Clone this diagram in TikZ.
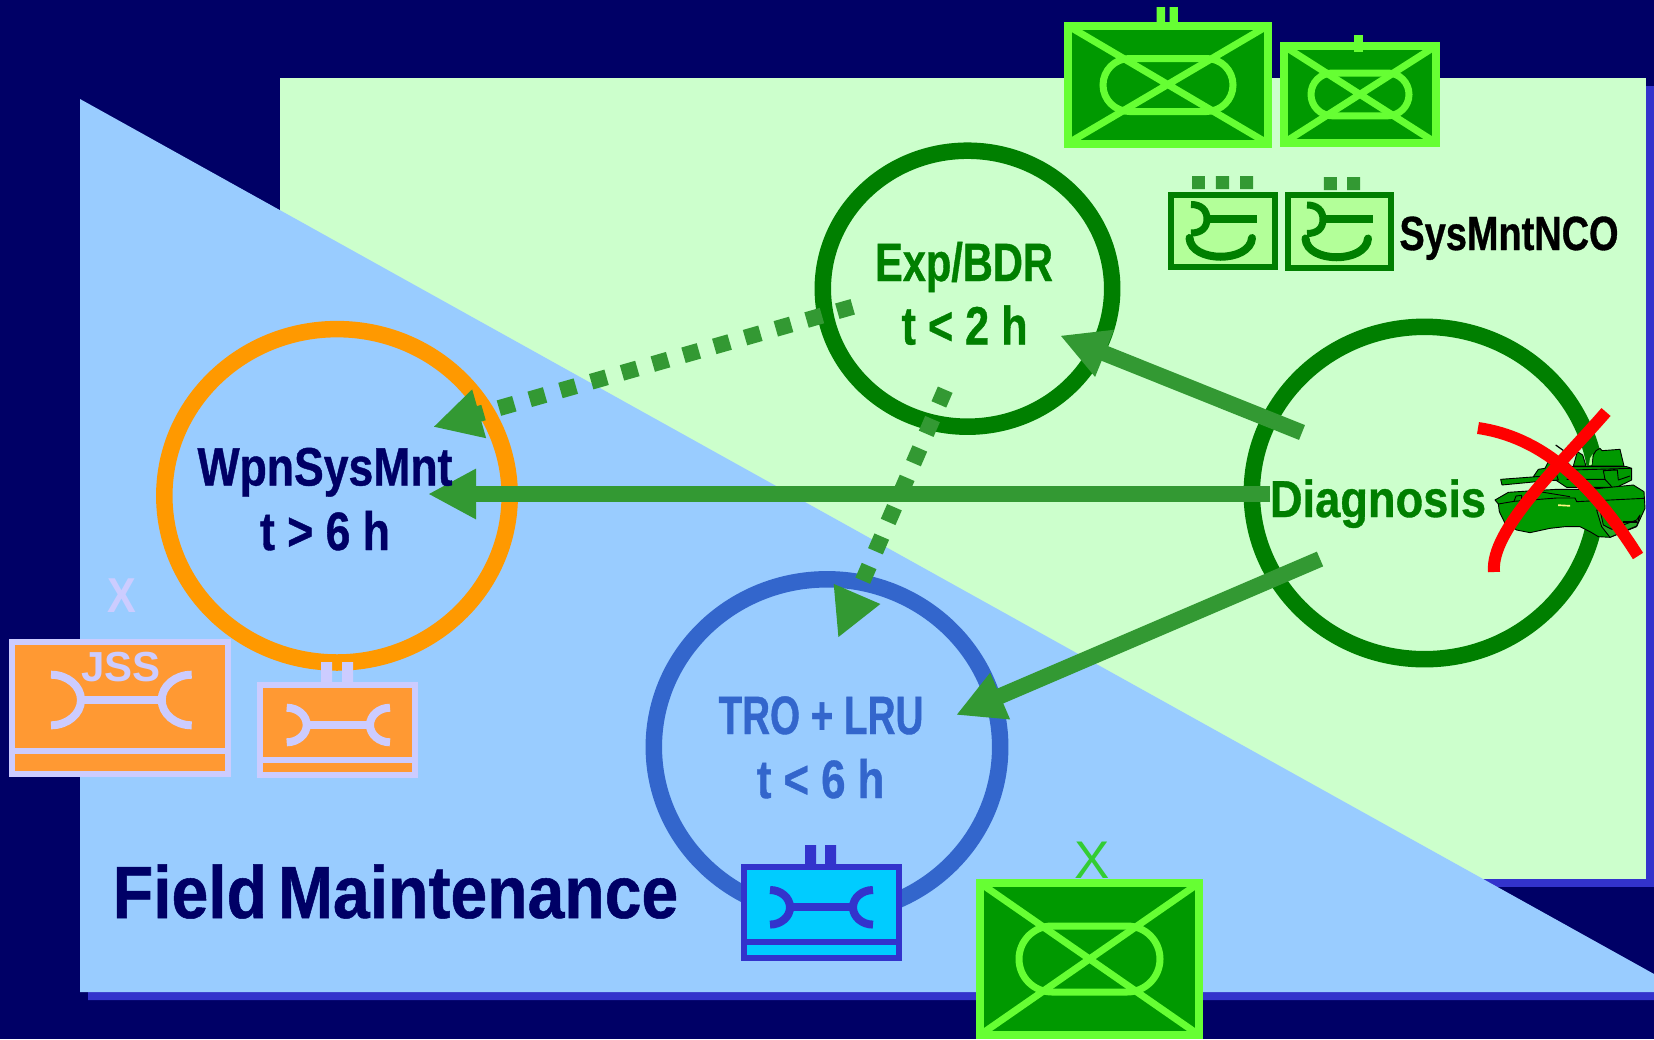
\documentclass[tikz,border=0pt]{standalone}
\usepackage{fontspec}
\setmainfont{Liberation Sans}
\usetikzlibrary{arrows.meta}
\definecolor{navy}{HTML}{000066}
\definecolor{paleg}{HTML}{CCFFCC}
\definecolor{paleb}{HTML}{99CCFF}
\definecolor{shadow}{HTML}{3333CC}
\definecolor{dgreen}{HTML}{007F00}
\definecolor{mgreen}{HTML}{339933}
\definecolor{tro}{HTML}{3366CC}
\definecolor{orng}{HTML}{FF9900}
\definecolor{orfill}{HTML}{FF9933}
\definecolor{lav}{HTML}{CCCCFF}
\definecolor{lime}{HTML}{66FF33}
\definecolor{armfill}{HTML}{009900}
\definecolor{cyanf}{HTML}{00CCFF}
\definecolor{maintf}{HTML}{B3FF99}
\newcommand\tx[3]{{\fontsize{#2}{#2}\selectfont\addfontfeature{FakeStretch=#1,FakeBold=0.7}#3}}
\newcommand\txp[3]{{\fontsize{#2}{#2}\selectfont\addfontfeature{FakeStretch=#1}#3}}
\tikzset{
 ring/.style={draw=#1,line width=16.5pt},
 label/.style={anchor=base,inner sep=0pt,font=\bfseries},
 conn/.style={draw=mgreen,line width=16pt,-{Triangle[length=48pt,width=47pt]}},
 dotconn/.style={conn,dash pattern=on 16pt off 16pt},
 cross/.style={draw=red,line width=12pt},
}
% armoured symbol: box centre line, oval centre line
\newcommand\armoricon[8]{%
 \draw[draw=lime,fill=armfill,line width=8pt] (#1,#2) rectangle (#3,#4);
 \draw[draw=lime,line width=7pt] (#1,#2) -- (#3,#4) (#1,#4) -- (#3,#2);
 \draw[draw=lime,line width=7pt,rounded corners={(#8-#6)/2*1pt}] (#5,#6) rectangle (#7,#8);
}
% spanner: xL xR cy rx ry colour
\newcommand\spanner[6]{%
 \draw[#6,line width=8pt] (#1,#3-#5) .. controls ({#1+.55*#4},#3-#5) and ({#1+#4},{#3-.55*#5}) .. ({#1+#4},#3)
   .. controls ({#1+#4},{#3+.55*#5}) and ({#1+.55*#4},#3+#5) .. (#1,#3+#5);
 \draw[#6,line width=8pt] (#2,#3-#5) .. controls ({#2-.55*#4},#3-#5) and ({#2-#4},{#3-.55*#5}) .. ({#2-#4},#3)
   .. controls ({#2-#4},{#3+.55*#5}) and ({#2-.55*#4},#3+#5) .. (#2,#3+#5);
 \draw[#6,line width=8pt] ({#1+#4},#3) -- ({#2-#4},#3);
}
% repair symbol: box x0 y0 x1 y1 divider stroke fill
\newcommand\repairbox[7]{%
 \draw[draw=#6,fill=#7,line width=6pt] (#1,#2) rectangle (#3,#4);
 \draw[draw=#6,line width=6pt] (#1,#5) -- (#3,#5);
}
% maintenance NCO glyph, at dx dy
\newcommand\nco[2]{%
 \begin{scope}[shift={(#1,#2)}]
 \draw[draw=dgreen,line width=7pt] (1191,204.5) .. controls (1201,204.5) and (1207,210) .. (1207,219)
    .. controls (1207,228) and (1201,233) .. (1191,233);
 \draw[draw=dgreen,line width=8pt] (1207,218.7) -- (1257,218.7);
 \draw[draw=dgreen,line width=8pt,line cap=round] (1189.5,238) .. controls (1191,263) and (1250,263) .. (1252,238);
 \end{scope}
}
\begin{document}
\begin{tikzpicture}[x=1pt,y=-1pt]
\useasboundingbox (0,0) rectangle (1654,1039);
\clip (0,0) rectangle (1654,1039);
\fill[navy] (0,0) rectangle (1654,1039);
% panels
\fill[shadow] (288,86) rectangle (1654,887);
\fill[paleg] (280,78) rectangle (1646,879);
\fill[shadow] (88,107) -- (88,1000) -- (1700,1000) -- cycle;
\fill[paleb] (80,99) -- (80,992) -- (1654,992) -- (1654,974) -- cycle;
% rings
\coordinate (exp) at (967.5,288.7);
\coordinate (wpn) at (337,495.8);
\coordinate (diag) at (1424.5,493);
\coordinate (trol) at (827,747);
\draw[ring=dgreen] (exp) ellipse [x radius=144.7, y radius=138];
\draw[ring=orng] (wpn) ellipse [x radius=172.7, y radius=166.7];
\draw[ring=dgreen] (diag) ellipse [x radius=172.7, y radius=166.2];
\draw[ring=tro] (trol) ellipse [x radius=173.2, y radius=167.7];
% armoured symbols
\fill[lime] (1156.7,7) rectangle (1165,26) (1169.6,7) rectangle (1177.8,26);
\armoricon{1067.5}{25.5}{1268}{143.5}{1103}{58.5}{1233}{111.5}
\armoricon{1284}{46}{1435.8}{142.7}{1311}{73}{1409}{115.8}
\fill[lime] (1354.4,35.3) rectangle (1363,51.7);
\armoricon{980}{883}{1199}{1035}{1019}{926}{1160}{992}
% NCO maintenance symbols
\fill[mgreen] (1192,176) rectangle (1204.8,189) (1215.8,176) rectangle (1229,189) (1240,176) rectangle (1253,189);
\fill[mgreen] (1323.9,177) rectangle (1336.8,190) (1347,177) rectangle (1360,190);
\draw[draw=dgreen,fill=maintf,line width=6pt] (1171,194.7) rectangle (1275,267);
\draw[draw=dgreen,fill=maintf,line width=6pt] (1287.7,195) rectangle (1391.3,267.7);
\nco{0}{0}
\nco{116}{0.5}
% repair symbols
\repairbox{11.7}{641.5}{227.7}{774.3}{751}{lav}{orfill}
\spanner{51}{191.7}{700}{30}{25.3}{lav}
\fill[lav] (321,662) rectangle (332,683) (342,662) rectangle (353,683);
\repairbox{260.3}{685}{415.3}{775.3}{759.5}{lav}{orfill}
\spanner{286.7}{390}{725}{20}{17.3}{lav}
\fill[shadow] (805,845) rectangle (816,865) (825,845) rectangle (836,865);
\repairbox{744}{867.3}{898.7}{958.3}{942}{shadow}{cyanf}
\spanner{770}{873}{907.3}{20}{17.3}{shadow}
% connectors
\coordinate (a0) at (1302,432.5); \coordinate (a1) at (1060,335.5);
\coordinate (b0) at (1320,559);   \coordinate (b1) at (956,715);
\coordinate (c0) at (1270,494);   \coordinate (c1) at (428,494);
\coordinate (d0) at (852.7,306.8); \coordinate (d1) at (433,427);
\coordinate (e0) at (945.2,389.7); \coordinate (e1) at (838,638);
\draw[conn] (a0) -- (a1);
\draw[conn] (b0) -- (b1);
\draw[conn] (c0) -- (c1);
\draw[dotconn] (d0) -- (d1);
\draw[dotconn] (e0) -- (e1);
% tank
\begin{scope}[shift={(1490,430)},x=.3333pt,y=-.3333pt,line width=.9pt,draw=black,line join=round]
 \draw[line width=1.2pt] (197,45) -- (225,65);
 \draw[fill=armfill] (305,108) -- (310,75) -- (318,62) -- (330,55) -- (336,62) -- (390,58) -- (402,108) -- cycle;
 \draw[fill=armfill] (250,108) -- (262,65) -- (278,75) -- (288,108) -- cycle;
 \fill[maintf] (297,105) -- (300,85) -- (308,72) -- (305,105) -- cycle;
 \draw[fill=armfill] (130,140) -- (145,118) -- (165,115) -- (175,95) -- (230,95) -- (245,110) -- (410,110) -- (425,115) -- (425,150) -- (380,172) -- (230,172) -- (200,152) -- cycle;
 \draw[fill=armfill] (32,148) -- (140,140) -- (200,135) -- (205,150) -- (140,155) -- (36,165) -- cycle;
 \draw[fill=armfill] (15,210) -- (55,187) -- (130,182) -- (200,178) -- (300,178) -- (430,165) -- (462,185) -- (465,235) -- (440,290) -- (360,322) -- (325,320) -- (300,305) -- (270,290) -- (225,290) -- (180,295) -- (120,308) -- (80,300) -- (45,280) -- (28,245) -- (25,222) -- cycle;
 \draw (25,222) -- (72,214) -- (200,204) -- (255,204) -- (260,215) -- (462,205);
 \draw (72,214) -- (78,198) -- (95,196) -- (95,212);
 \draw (130,182) -- (240,200) ;
 \draw (245,120) -- (425,115) (230,148) -- (345,148) -- (340,122) -- (382,120) -- (385,150) -- (420,138);
 \draw (345,148) -- (365,170);
 \draw[fill=armfill!85!white] (320,240) -- (335,290) -- (360,322) -- (440,288) -- (450,255) -- (440,270) -- (365,298) -- (340,285) -- (330,240) -- cycle;
 \fill[black] (400,272) rectangle (440,280);
 \fill[yellow!50!white,draw=none] (204,223) -- (240,225) -- (240,230) -- (204,228) -- cycle;
\end{scope}
% labels
\node[label,text=dgreen] (t1) at (964,281) {\tx{.77}{54}{Exp/BDR}};
\node[label,text=dgreen] (t2) at (964.6,344.5) {\tx{.8}{54}{t < 2 h}};
\node[label,text=navy] (t3) at (325,485.5) {\tx{.825}{54}{WpnSysMnt}};
\node[label,text=navy] (t4) at (325,550) {\tx{.825}{54}{t > 6 h}};
\node[label,text=tro] (t5) at (821,734) {\tx{.715}{54}{TRO + LRU}};
\node[label,text=tro] (t6) at (820.6,798) {\tx{.81}{54}{t < 6 h}};
\node[label,text=dgreen] (t7) at (1378,517) {\tx{.87}{52}{Diagnosis}};
\node[label,text=black] (t8) at (1509,250) {\tx{.79}{48}{SysMntNCO}};
\node[label,text=navy] (t9) at (395.5,918) {\tx{.893}{74}{Field \hspace{-7.4pt}Maintenance}};
\node[label,text=lav] (t10) at (121.5,612) {\txp{.88}{49}{X}};
\node[label,text=lav] (t11) at (121,681.5) {\txp{1}{42}{JSS}};
\node[anchor=base,inner sep=0pt,text={rgb,255:red,51;green,204;blue,51}] (t12) at (1092,878) {\txp{1}{53}{X}};
% red cross
\draw[cross] (1478,428) .. controls (1540,437) and (1590,480) .. (1638,556);
\draw[cross] (1606,412) .. controls (1560,465) and (1490,530) .. (1494,572);
\end{tikzpicture}
\end{document}
